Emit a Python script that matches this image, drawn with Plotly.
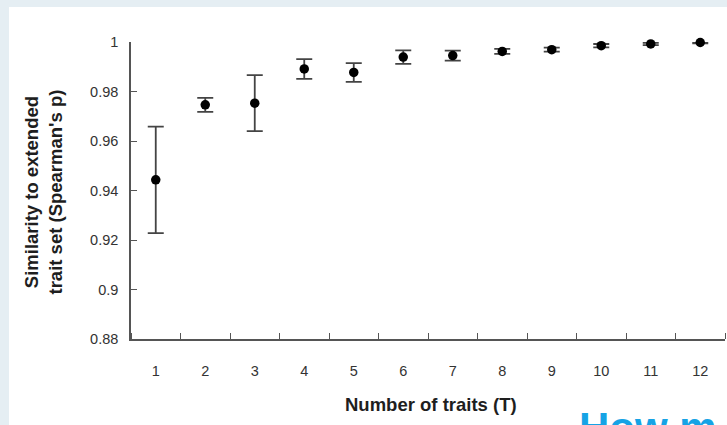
import plotly.graph_objects as go

# Data
traits = [1, 2, 3, 4, 5, 6, 7, 8, 9, 10, 11, 12]
similarity = [0.9443, 0.9746, 0.9753, 0.9891, 0.9877, 0.9939, 0.9945, 0.9962, 0.9969, 0.9985, 0.9992, 0.9998]
err = [0.0215, 0.0028, 0.0113, 0.0040, 0.0038, 0.0027, 0.0020, 0.0010, 0.0008, 0.0007, 0.0005, 0.0003]
x_tick_labels = ["1", "2", "3", "4", "5", "6", "7", "8", "9", "10", "11", "12"]
y_tick_vals = [0.88, 0.90, 0.92, 0.94, 0.96, 0.98, 1.0]
y_tick_labels = ["0.88", "0.9", "0.92", "0.94", "0.96", "0.98", "1"]

FONT = "Liberation Sans, Arial, Helvetica, sans-serif"
W, H = 727, 425
ML, MR, MT, MB = 131, 2, 42, 86
PW = W - ML - MR
PH = H - MT - MB


def px_x(p):
    return (p - ML) / PW


def px_y(p):
    return (H - MB - p) / PH


fig = go.Figure()
fig.add_trace(go.Scatter(
    x=traits, y=similarity,
    mode="markers",
    marker=dict(color="#000000", size=9.5),
    error_y=dict(type="data", array=err, visible=True, color="#444444",
                 thickness=1.8, width=8),
    cliponaxis=False,
    showlegend=False,
))

fig.update_layout(
    width=W, height=H,
    margin=dict(l=ML, r=MR, t=MT, b=MB, pad=0),
    paper_bgcolor="#e5eef3",
    plot_bgcolor="#ffffff",
    font=dict(family=FONT, size=14.5, color="#333333"),
    xaxis=dict(
        range=[0.5, 12.5],
        tickmode="array", tickvals=traits, ticktext=x_tick_labels,
        ticks="", showgrid=False, zeroline=False,
        showline=True, linecolor="#555555", linewidth=1.5,
        ticklabelstandoff=18,
        tickfont=dict(family=FONT, size=14.5, color="#333333"),
        minor=dict(tickmode="linear", tick0=0.5, dtick=1, ticks="inside",
                   ticklen=6, tickwidth=1.3, tickcolor="#555555", showgrid=False),
    ),
    yaxis=dict(
        range=[0.88, 1.0],
        tickmode="array", tickvals=y_tick_vals, ticktext=y_tick_labels,
        ticks="inside", ticklen=6, tickwidth=1.3, tickcolor="#555555",
        showgrid=False, zeroline=False,
        showline=True, linecolor="#555555", linewidth=1.5,
        ticklabelstandoff=8,
        tickfont=dict(family=FONT, size=14.5, color="#333333"),
    ),
    shapes=[dict(
        type="rect", xref="paper", yref="paper",
        x0=px_x(9), x1=px_x(W + 5), y0=px_y(H + 5), y1=px_y(7),
        fillcolor="#ffffff", line=dict(width=0), layer="below",
    )],
    annotations=[
        dict(text="<b>Similarity to extended<br>trait set (Spearman's p)</b>",
             xref="paper", yref="paper", x=px_x(43.5), y=px_y(192),
             xanchor="center", yanchor="middle", textangle=-90, showarrow=False,
             font=dict(family=FONT, size=18.5, color="#1e1e1e")),
        dict(text="<b>Number of traits (T)</b>",
             xref="paper", yref="paper", x=px_x(431), y=px_y(404),
             xanchor="center", yanchor="middle", showarrow=False,
             font=dict(family=FONT, size=18.5, color="#1e1e1e")),
        dict(text="<b>How m</b>",
             xref="paper", yref="paper", x=px_x(577), y=px_y(402),
             xanchor="left", yanchor="top", showarrow=False,
             font=dict(family=FONT, size=42, color="#16a3e5")),
    ],
)

fig.write_html("out.html")
